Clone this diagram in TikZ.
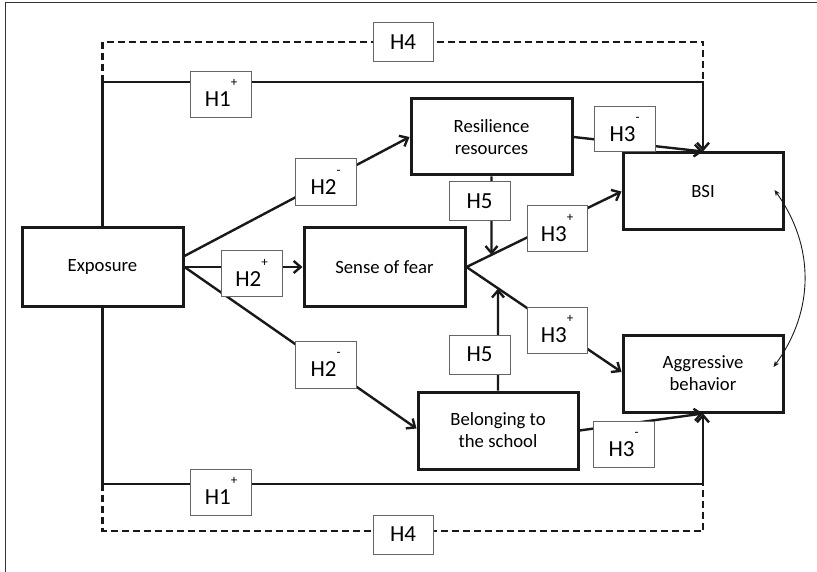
\documentclass[tikz,border=0pt]{standalone}
\usepackage{fontspec}
\setmainfont{Carlito}
\usetikzlibrary{arrows.meta,calc}
\newcommand\supl[1]{\raisebox{20pt}{\fontsize{13}{13}\selectfont #1}}
\begin{document}
\begin{tikzpicture}[x=1pt,y=-1pt,
  mainbox/.style={draw=black!90, line width=3pt, inner sep=0pt, align=center,
    minimum width=161pt, minimum height=77pt, text=black,
    font=\fontsize{18.7}{22}\selectfont},
  lab/.style={draw=black!60, line width=1pt, fill=white, inner sep=0pt,
    minimum width=61pt, text=black, font=\fontsize{23}{26}\selectfont},
  labsup/.style={lab, minimum height=46pt, text height=24.6pt, text depth=0pt},
  labplain/.style={lab, minimum height=39pt},
  conn/.style={line width=2.4pt, draw=black!90},
  arr/.style={-{Straight Barb[length=7pt,width=12pt]}},
  dline/.style={conn, dash pattern=on 7pt off 4pt},
  dbl/.style={line width=0.9pt, draw=black!90,
    {Stealth[length=6pt,width=5pt]}-{Stealth[length=6pt,width=5pt]}}
]
\useasboundingbox (0,0) rectangle (817,572);
% frame
\draw[line width=1pt, black!80] (5,572) -- (5,3) -- (817,3);

% main boxes
\node[mainbox, minimum height=78pt] (expo) at (102.5,267) {Exposure};
\node[mainbox, minimum height=78pt] (fear) at (384.5,267) {Sense of fear};
\node[mainbox, minimum height=76pt] (resil) at (491.5,137) {Resilience\\resources};
\node[mainbox, minimum width=160pt] (bsi) at (703,191.5) {BSI};
\node[mainbox, minimum width=160pt] (aggr) at (703,373.5) {Aggressive\\behavior};
\node[mainbox, minimum width=160pt] (belong) at (498,430.5) {Belonging to\\the school};

% corner coordinates
\coordinate (tl) at (102.5,82);
\coordinate (tr) at (703,82);
\coordinate (dtl) at (102.5,42);
\coordinate (dtr) at (703,42);
\coordinate (bl) at (102.5,484);
\coordinate (br) at (703,484);
\coordinate (dbl) at (102.5,531);
\coordinate (dbr) at (703,531);

% H4 dashed paths
\draw[dline] (tl) -- (dtl) -- (dtr) -- (tr);
\draw[dline] (bl) -- (dbl) -- (dbr) -- (br);
% H1 paths
\draw[conn, arr] (expo.north) -- (tl) -- (tr) -- (bsi.north);
\draw[conn, arr] (expo.south) -- (bl) -- (br) -- (aggr.south);

% H2 paths
\draw[conn, arr] ([yshift=11pt]expo.east) -- (resil.west);
\draw[conn, arr] (expo.east) -- (fear.west);
\draw[conn, arr] (expo.east) -- ([yshift=2pt]belong.west);

% H3 paths
\draw[conn, arr] (resil.east) -- (bsi.north);
\draw[conn, arr] (fear.east) -- (bsi.west);
\draw[conn, arr] (fear.east) -- ([yshift=1.5pt]aggr.west);
\draw[conn, arr] (belong.east) -- (aggr.south);

% H5 paths
\draw[conn, arr] (resil.south) -- (intersection of resil.south--resil.north and fear.east--bsi.west);
\draw[conn, arr] (belong.north) -- (intersection of belong.north--belong.south and fear.east--aggr.west);

% correlation
\draw[dbl] ([xshift=-10pt,yshift=1.5pt]bsi.east) to[bend left=36] ([xshift=-11pt,yshift=6.5pt]aggr.east);

% labels
\node[labplain, minimum width=60pt] (h4t) at (403,42.5) {H4};
\node[labsup] (h1t) at (221,94.5) {H1\supl{+}};
\node[labsup, minimum height=47pt] (h2a) at (325.5,182.5) {H2\supl{-}};
\node[labsup] (h2b) at (251.5,274) {H2\supl{+}};
\node[labsup, minimum height=47pt] (h2c) at (325.5,364.5) {H2\supl{-}};
\node[labsup] (h1b) at (221,492) {H1\supl{+}};
\node[labplain, minimum width=60pt] (h4b) at (403,534.5) {H4};
\node[labsup, minimum height=45pt] (h3a) at (624.5,129.5) {H3\supl{-}};
\node[labplain] (h5a) at (479.5,201.5) {H5};
\node[labsup, minimum width=60pt] (h3b) at (557,229) {H3\supl{+}};
\node[labsup, minimum width=60pt] (h3c) at (557,330) {H3\supl{+}};
\node[labplain] (h5b) at (479.5,354.5) {H5};
\node[labsup] (h3d) at (623.5,444) {H3\supl{-}};
\end{tikzpicture}
\end{document}
